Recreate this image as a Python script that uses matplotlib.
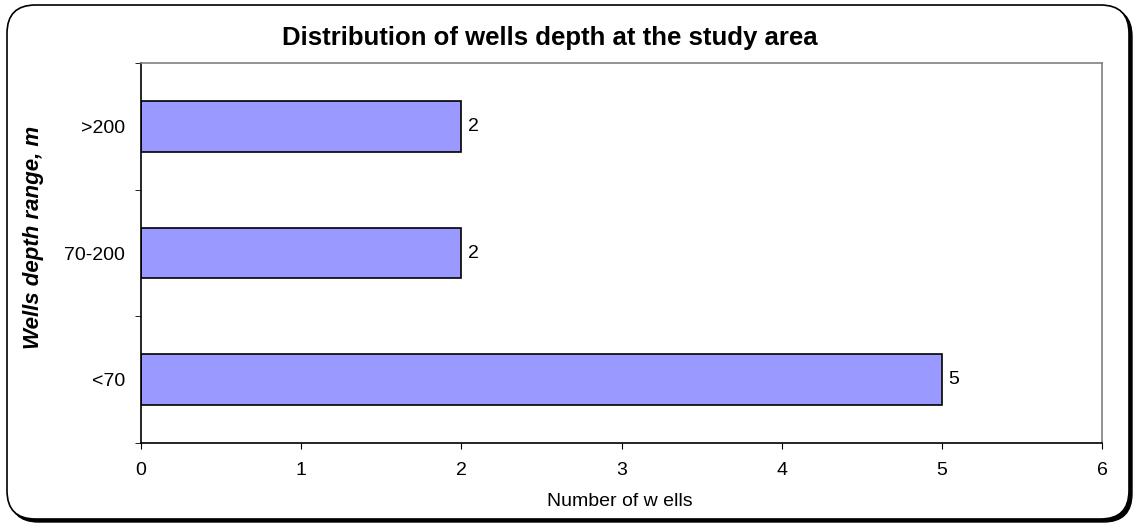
import matplotlib
matplotlib.use("Agg")
import matplotlib.pyplot as plt
from matplotlib.patches import FancyBboxPatch

categories = ["<70", "70-200", ">200"]
values = [5, 2, 2]
xticks = [0, 1, 2, 3, 4, 5, 6]

plt.rcParams['font.family'] = ['Liberation Sans', 'DejaVu Sans']

W, H = 1136, 525
fig = plt.figure(figsize=(W / 100, H / 100), dpi=100)

# rounded frame with shadow
shadow = FancyBboxPatch((10 / W, 3 / H), 1122 / W, 514 / H,
                        boxstyle="round,pad=0,rounding_size=0.025",
                        transform=fig.transFigure, facecolor="black",
                        edgecolor="black", lw=1, zorder=0, mutation_aspect=W / H)
frame = FancyBboxPatch((7 / W, 6 / H), 1122 / W, 514 / H,
                       boxstyle="round,pad=0,rounding_size=0.025",
                       transform=fig.transFigure, facecolor="white",
                       edgecolor="black", lw=1.2, zorder=1, mutation_aspect=W / H)
fig.patches.extend([shadow, frame])

ax = fig.add_axes([141 / W, 1 - 443 / H, (1102 - 141) / W, (443 - 63) / H])
ax.set_facecolor("none")
ax.set_zorder(2)

y = list(range(len(categories)))
ax.barh(y, values, height=0.4, color="#9999FF", edgecolor="black", linewidth=1.2)
for yi, v in zip(y, values):
    ax.annotate(str(v), (v, yi), xytext=(4.5, 0), textcoords="offset points",
                va="center", ha="left", fontsize=14)

ax.set_xlim(0, 6)
ax.set_ylim(-0.5, 2.5)
ax.set_xticks(xticks)
ax.set_xticklabels([str(t) for t in xticks], fontsize=14)
ax.set_yticks(y)
ax.set_yticklabels(categories, fontsize=14)
ax.set_yticks([-0.5, 0.5, 1.5, 2.5], minor=True)
ax.tick_params(axis="y", which="major", length=0, pad=11.5)
ax.tick_params(axis="y", which="minor", length=4, direction="out", color="black")
ax.tick_params(axis="x", length=4, direction="out", pad=10)

for s in ["top", "right"]:
    ax.spines[s].set_color("#808080")
    ax.spines[s].set_linewidth(1.2)
for s in ["left", "bottom"]:
    ax.spines[s].set_color("black")
    ax.spines[s].set_linewidth(1.2)

fig.text(620 / W, 1 - 502 / H, "Number of w ells", ha="center", va="center",
         fontsize=14)
fig.text(34 / W, 1 - 237 / H, "Wells depth range, m", ha="center", va="center",
         rotation=90, fontsize=16, fontweight="bold", fontstyle="italic")
fig.text(550 / W, 1 - 38 / H, "Distribution of wells depth at the study area",
         ha="center", va="center", fontsize=18.5, fontweight="bold")

fig.savefig("out.png", dpi=100)
